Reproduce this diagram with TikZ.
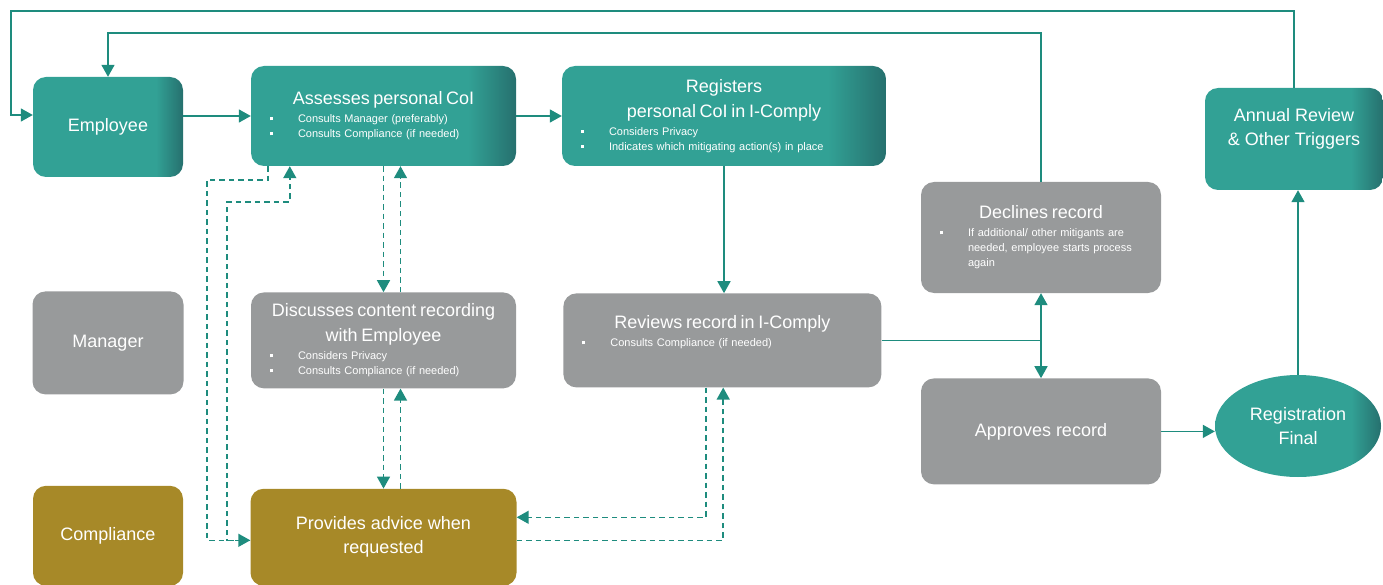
\documentclass[tikz,border=0pt]{standalone}
\usepackage{fontspec}
\setmainfont{Liberation Sans}
\usepackage{xcolor}
\usepackage{tikz}
\usetikzlibrary{arrows.meta,shapes.geometric,positioning,calc}

\definecolor{flowteal}{RGB}{30,140,126}
\definecolor{boxteal}{RGB}{50,161,149}
\definecolor{boxtealdark}{RGB}{38,112,110}
\definecolor{boxgray}{RGB}{152,154,155}
\definecolor{boxgold}{RGB}{167,137,40}

% path box is mapped onto 25bp..75bp of the shading
\pgfdeclarehorizontalshading{tealfade}{100bp}{color(0bp)=(boxteal); color(66bp)=(boxteal); color(75bp)=(boxtealdark); color(100bp)=(boxtealdark)}

\newcommand\cardtitle[1]{{\fontsize{18}{25}\selectfont\centering #1\par}\vspace{3pt}}
\newcommand\cardpoint[1]{\par\noindent\hspace*{9pt}\makebox[28pt][l]{\rule[2.5pt]{3pt}{3pt}}\parbox[t]{\dimexpr\linewidth-37pt\relax}{\raggedright #1}}

\tikzset{
  card/.style={
    rectangle,
    rounded corners=13pt,
    minimum height=100pt,
    inner xsep=10pt,
    inner ysep=0pt,
    text=white,
    font=\fontsize{18}{24}\selectfont,
    align=center,
  },
  card teal/.style={card, shading=tealfade},
  card gray/.style={card, fill=boxgray},
  card gold/.style={card, fill=boxgold},
  card notes/.style={align=left, font=\fontsize{11}{15}\selectfont},
  final oval/.style={
    ellipse,
    shading=tealfade,
    inner sep=0pt,
    text=white,
    font=\fontsize{18}{24}\selectfont,
    align=center,
  },
  flow/.style={draw=flowteal, line width=1.6pt, -{Triangle[length=12pt,width=13pt]}},
  flow plain/.style={draw=flowteal, line width=1.6pt},
  ask/.style={flow, line width=1.5pt, dash pattern=on 5.5pt off 4pt},
}

\begin{document}
\begin{tikzpicture}[x=1pt,y=-1pt]
  \useasboundingbox (0,0) rectangle (1383,585);

  % employee row
  \node[card teal, minimum width=150pt] (employee) at (108,127) {Employee};
  \node[card teal, card notes, minimum width=265pt, text width=245pt] (assess) at (383.5,116)
    {\cardtitle{Assesses personal CoI}\cardpoint{Consults Manager (preferably)}\cardpoint{Consults Compliance (if needed)}};
  \node[card teal, card notes, minimum width=324pt, text width=304pt] (register) at (724,116)
    {\cardtitle{Registers\\personal CoI in I-Comply}\cardpoint{Considers Privacy}\cardpoint{Indicates which mitigating action(s) in place}};
  \node[card teal, minimum width=178pt, minimum height=102pt] (annual) at (1294,139)
    {Annual Review\\\& Other Triggers\\\mbox{}};

  % manager row
  \node[card gray, minimum width=151pt, minimum height=103pt, below=114pt of employee] (manager) {Manager};
  \node[card gray, card notes, minimum width=265pt, minimum height=96pt, text width=245pt, below=126pt of assess] (discuss)
    {\cardtitle{Discusses content recording\\with Employee}\cardpoint{Considers Privacy}\cardpoint{Consults Compliance (if needed)}};
  \node[card gray, card notes, minimum width=318pt, minimum height=94pt, text width=298pt, right=47pt of discuss] (reviews)
    {\cardtitle{Reviews record in I-Comply}\cardpoint{Consults Compliance (if needed)}\par\vspace{16pt}};
  \node[card gray, card notes, minimum width=240pt, minimum height=111pt, text width=220pt] (declines) at (1041,237.5)
    {\cardtitle{Declines record}\cardpoint{If additional/ other mitigants are\\needed, employee starts process\\again}};
  \node[card gray, minimum width=240pt, minimum height=106pt, below=85pt of declines] (approves) {Approves record};
  \node[final oval, minimum width=166pt, minimum height=102pt] (regfinal) at (1298,426) {Registration\\Final};

  % compliance row
  \node[card gold, minimum width=150pt, below=91pt of manager] (compliance) {Compliance};
  \node[card gold, minimum width=266pt, minimum height=97pt, below=100pt of discuss] (provides) {Provides advice when\\requested};

  % main flow
  \draw[flow] (annual.north) |- (11,11) |- ([yshift=12pt]employee.west);
  \draw[flow] (declines.north) |- ([yshift=44pt]employee.north) -- (employee.north);
  \draw[flow] (employee.east |- assess.west) -- (assess.west);
  \draw[flow] (assess) -- (register);
  \draw[flow] (register.south) -- (register.south |- reviews.north);
  \draw[flow plain] (reviews.east) -- (reviews.east -| declines.south) coordinate (split);
  \draw[flow] (split) -- (declines.south);
  \draw[flow] (split) -- (approves.north);
  \draw[flow] (approves.east) -- (approves.east -| regfinal.west);
  \draw[flow] (regfinal.north) -- (regfinal.north |- annual.south);

  % advice requests
  \draw[ask] (assess.south) -- (assess.south |- discuss.north);
  \draw[ask] ([xshift=17pt]discuss.north) -- ([xshift=17pt]discuss.north |- assess.south);
  \draw[ask] (discuss.south) -- (discuss.south |- provides.north);
  \draw[ask] ([xshift=17pt]provides.north) -- ([xshift=17pt]provides.north |- discuss.south);
  \draw[ask] ([xshift=17pt]assess.south west) |- (207,180) |- ([yshift=-3pt]provides.west);
  \draw[ask] ([yshift=-3pt]provides.west) -| (227,202) -| ([xshift=39pt]assess.south west);
  \draw[ask] ([xshift=143pt]reviews.south west) |- ([yshift=20pt]provides.east);
  \draw[ask] ([yshift=-3pt]provides.east) -| ([xshift=160pt]reviews.south west);
\end{tikzpicture}
\end{document}
